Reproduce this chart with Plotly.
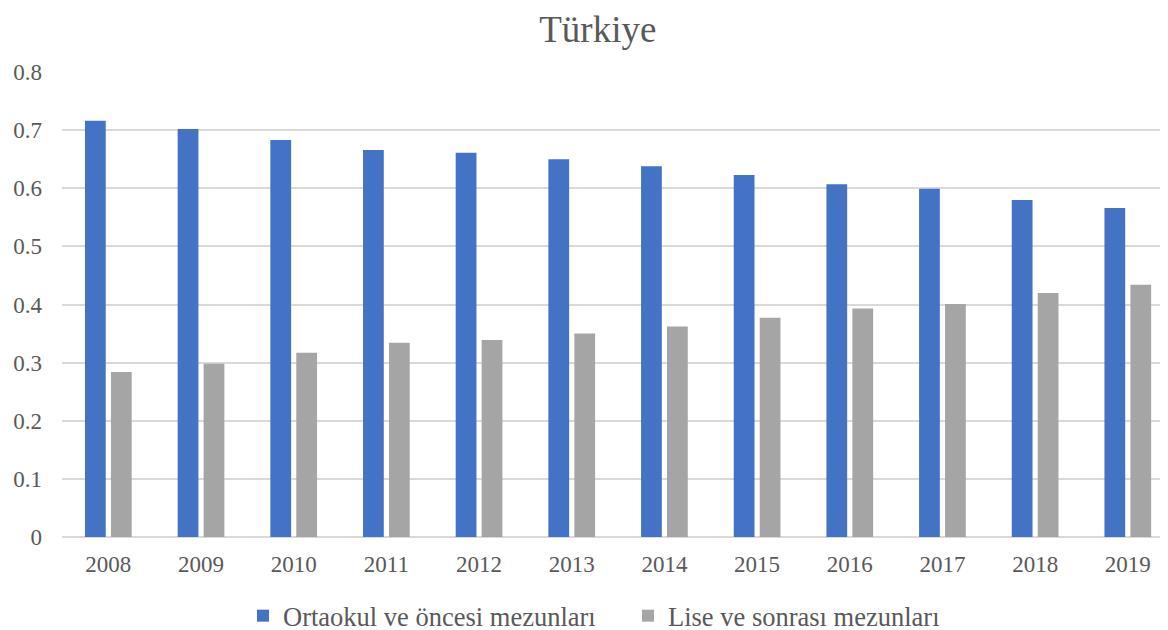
import plotly.graph_objects as go

years = ["2008", "2009", "2010", "2011", "2012", "2013", "2014", "2015", "2016", "2017", "2018", "2019"]
ortaokul = [0.716, 0.702, 0.683, 0.666, 0.661, 0.650, 0.638, 0.623, 0.607, 0.599, 0.580, 0.566]
lise = [0.284, 0.298, 0.317, 0.334, 0.339, 0.350, 0.362, 0.377, 0.393, 0.401, 0.420, 0.434]
yticks = [0, 0.1, 0.2, 0.3, 0.4, 0.5, 0.6, 0.7, 0.8]
ytick_text = ["0", "0.1", "0.2", "0.3", "0.4", "0.5", "0.6", "0.7", "0.8"]

FONT = "Liberation Serif"
TXT = "#595959"

fig = go.Figure()
fig.add_trace(go.Bar(x=years, y=ortaokul, name="Ortaokul ve öncesi mezunları",
                     marker=dict(color="#4472C4", line=dict(width=0))))
fig.add_trace(go.Bar(x=years, y=lise, name="Lise ve sonrası mezunları",
                     marker=dict(color="#A5A5A5", line=dict(width=0))))

# the page body adds an 8px offset, so margins are compensated
fig.update_layout(
    width=1168, height=630,
    margin=dict(l=54, r=0, t=64, b=101, autoexpand=False),
    paper_bgcolor="white", plot_bgcolor="white",
    barmode="group", bargap=0.44, bargroupgap=0.2,
    font=dict(family=FONT, color=TXT, size=23),
    title=dict(text="Türkiye", xref="container", x=0.505, xanchor="center",
               yref="container", y=0.966, yanchor="middle",
               font=dict(family=FONT, size=37, color=TXT)),
    legend=dict(orientation="h", xref="container", x=0.2012, xanchor="left",
                yref="container", y=0.035, yanchor="middle", bgcolor="rgba(0,0,0,0)",
                font=dict(family=FONT, size=26.5, color=TXT), itemwidth=30,
                entrywidth=340, entrywidthmode="pixels",
                traceorder="normal"),
    showlegend=True,
)
fig.update_xaxes(type="category", range=[-0.5, 11.52], showgrid=False,
                 showline=False, ticks="", tickfont=dict(family=FONT, size=23, color=TXT),
                 ticklabelstandoff=11, automargin=False)
fig.update_yaxes(range=[0, 0.8], tickvals=yticks, ticktext=ytick_text,
                 showgrid=True, gridcolor="#D9D9D9", gridwidth=1.5,
                 zeroline=True, zerolinecolor="#D9D9D9", zerolinewidth=1.5,
                 showline=False, ticks="", tickfont=dict(family=FONT, size=23, color=TXT),
                 ticklabelstandoff=19, automargin=False)

fig.write_html("out.html")
